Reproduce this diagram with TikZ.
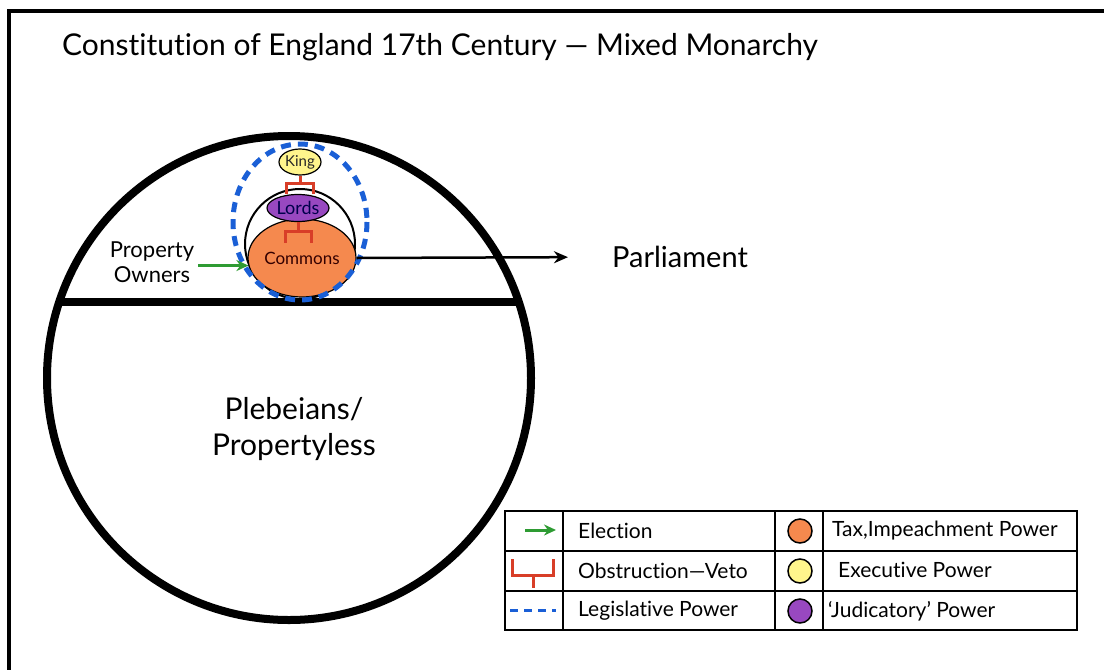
\documentclass[tikz,border=0pt]{standalone}
\usepackage{fontspec}
\setmainfont{Lato}[Ligatures=NoCommon]
\usetikzlibrary{arrows.meta,shapes.geometric}
\definecolor{cmorange}{RGB}{245,137,78}
\definecolor{cmyellow}{RGB}{255,245,140}
\definecolor{cmpurple}{RGB}{152,72,192}
\definecolor{cmblue}{RGB}{26,95,214}
\definecolor{cmred}{RGB}{216,62,40}
\definecolor{cmgreen}{RGB}{46,155,51}
\newcommand{\fs}[1]{\fontsize{#1}{#1}\selectfont}
\tikzset{
  heavy/.style={line width=8pt},
  body/.style={ellipse, draw=black, line width=1.2pt, inner sep=0pt},
  veto/.style={draw=cmred, line width=3pt},
  elect/.style={draw=cmgreen, line width=3pt, -{Stealth[length=12pt,width=11pt]}},
  legis/.style={draw=cmblue, line width=5pt, dash pattern=on 10pt off 7pt},
  grid/.style={draw=black, line width=2.5pt},
  lab/.style={anchor=west, inner sep=0pt, font=\fs{21}},
  dot/.style={circle, draw=black, line width=1.5pt, minimum size=24pt, inner sep=0pt}
}
\begin{document}
\begin{tikzpicture}[x=1pt,y=-1pt]
\useasboundingbox (0,0) rectangle (1104,670);
% slide frame (top and left edges)
\draw[line width=3.5pt] (1104,11) -- (9,11) -- (9,670);
\node[anchor=west, inner sep=0pt, font=\fs{30}] (title) at (62,47)
  {Constitution of England 17th Century --- Mixed Monarchy};

% society circle divided into the propertied and the propertyless
\draw[heavy] (289,378) circle (242);
\coordinate (divl) at (59,302);
\coordinate (divr) at (519,302);
\draw[heavy] (divl) -- (divr);

% parliament
\draw[line width=2pt] (300,244) circle (55);
\node[body, fill=cmorange, minimum width=108pt, minimum height=78pt, font=\fs{17}, text=black!80!red]
  (commons) at (302,258) {Commons};
\node[body, fill=cmpurple, minimum width=62pt, minimum height=27pt, font=\fs{18}, text=black!70!blue]
  (lords) at (298,208) {Lords};
\node[body, fill=cmyellow, minimum width=42pt, minimum height=26pt, font=\fs{15}, text=black!85]
  (king) at (300,162) {King};

% vetoes
\draw[veto] (king.south) -- ++(0,8) -- ++(-14,0) -- ++(0,10);
\draw[veto] (king.south) ++(0,8) -- ++(13,0) -- ++(0,10);
\draw[veto] (lords.south) -- ++(0,9) -- ++(-13,0) -- ++(0,12);
\draw[veto] (lords.south) ++(0,9) -- ++(13,0) -- ++(0,12);

% legislative power
\draw[legis] (300,222) ellipse (67 and 78);

% labels
\node[font=\fs{22}, align=center, inner sep=0pt] (owners) at (152,262) {Property\\[3pt]Owners};
\draw[elect] (owners.east |- commons.188) ++(4,0) -- (commons.188);
\node[font=\fs{29}, inner sep=0pt] (parl) at (680,257) {Parliament};
\draw[line width=2.5pt, -{Stealth[length=14pt,width=12pt]}, shorten >=44pt] (commons.east) -- (parl.west);
\node[font=\fs{30}, align=center, inner sep=0pt] (pleb) at (294,429) {Plebeians/\\[6pt]Propertyless};

% legend
\coordinate (tl) at (505,511);
\coordinate (br) at (1077,630);
\draw[grid] (tl) rectangle (br);
\draw[grid] (505,551) -- (1077,551);
\draw[grid] (505,591) -- (1077,591);
\draw[grid] (563,511) -- (563,630);
\draw[grid] (775,511) -- (775,630);
\draw[grid] (823,511) -- (823,630);

\coordinate (ea) at (525,530);
\coordinate (eb) at (556,530);
\draw[elect] (ea) -- (eb);
\node[lab] (l1) at (578,531) {Election};

\coordinate (va) at (512,559);
\coordinate (vb) at (553,559);
\draw[veto] (va) -- (512,575) -- (553,575) -- (vb);
\draw[veto] (533,575) -- (533,588);
\node[lab] (l2) at (578,571) {Obstruction---Veto};

\coordinate (da) at (510,610);
\coordinate (db) at (556,610);
\draw[draw=cmblue, line width=3pt, dash pattern=on 8pt off 6pt] (da) -- (db);
\node[lab] (l3) at (578,611) {Legislative Power};

\node[dot, fill=cmorange] (d1) at (800,531) {};
\node[dot, fill=cmyellow] (d2) at (800,571) {};
\node[dot, fill=cmpurple] (d3) at (800,611) {};
\node[lab] (r1) at (832,531) {Tax,Impeachment Power};
\node[lab] (r2) at (838,570) {Executive Power};
\node[lab] (r3) at (828,611) {`Judicatory' Power};
\end{tikzpicture}
\end{document}
